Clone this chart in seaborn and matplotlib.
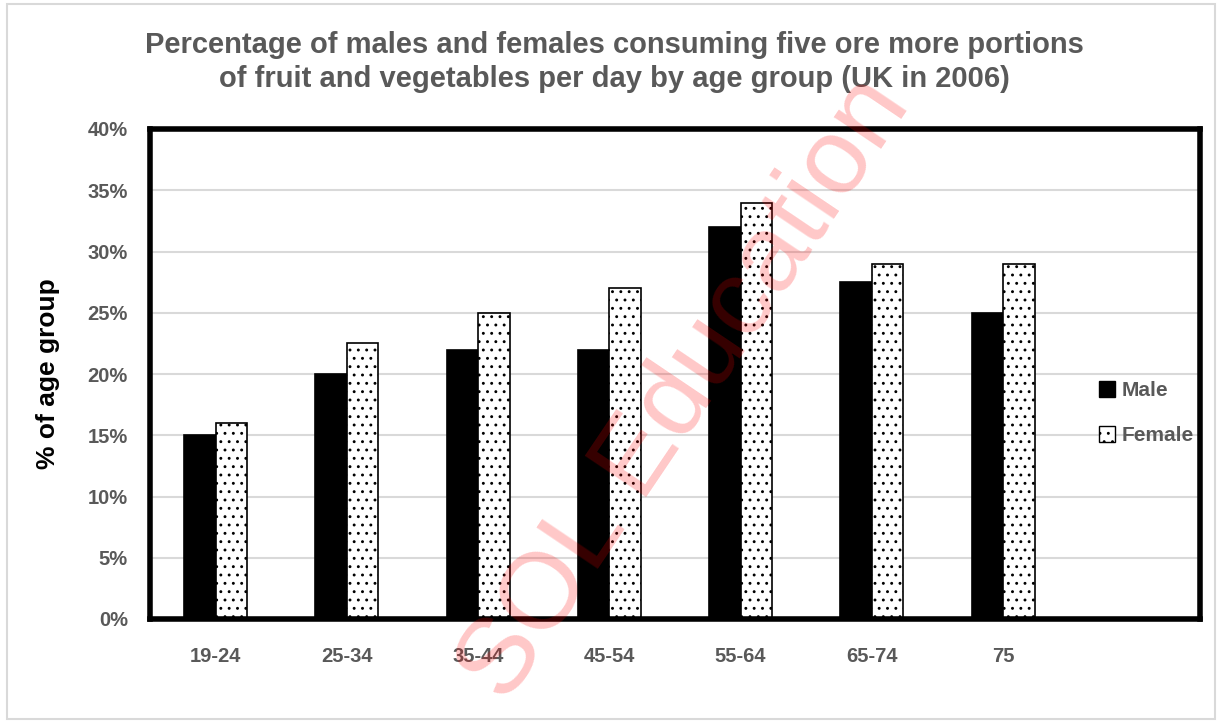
import matplotlib.pyplot as plt
import pandas as pd
import seaborn as sns
from matplotlib.patches import Patch
from matplotlib.ticker import FuncFormatter

age_groups = ["19-24", "25-34", "35-44", "45-54", "55-64", "65-74", "75", ""]
male = [15, 20, 22, 22, 32, 27.5, 25, 0]
female = [16, 22.5, 25, 27, 34, 29, 29, 0]
series = ["Male", "Female"]

GREY = "#595959"

sns.set_theme(style="white")
plt.rcParams["font.family"] = ["Liberation Sans", "DejaVu Sans"]
plt.rcParams["hatch.linewidth"] = 0.9

df = pd.DataFrame({
    "age": age_groups * 2,
    "pct": male + female,
    "sex": ["Male"] * len(age_groups) + ["Female"] * len(age_groups),
})

fig = plt.figure(figsize=(12.2, 7.22), dpi=100)
ax = fig.add_axes([150 / 1220, 1 - 619 / 722, 1050 / 1220, 490 / 722])

sns.barplot(data=df, x="age", y="pct", hue="sex", hue_order=series,
            palette={"Male": "black", "Female": "white"}, width=0.48,
            edgecolor="black", linewidth=1.2, legend=False, ax=ax)

# female bars get the dotted fill
for bar in ax.containers[1]:
    bar.set_hatch("..")

ax.set_ylim(0, 40)
ax.set_xlim(-0.5, len(age_groups) - 0.5)
ax.set_yticks(range(0, 41, 5))
ax.yaxis.set_major_formatter(FuncFormatter(lambda v, _: f"{v:.0f}%"))
ax.grid(axis="y", color="#d9d9d9", linewidth=1.5)
ax.set_axisbelow(True)

for s in ax.spines.values():
    s.set_color("black")
    s.set_linewidth(4)

ax.tick_params(axis="both", length=0, labelsize=14.5, labelcolor=GREY)
for lbl in ax.get_xticklabels() + ax.get_yticklabels():
    lbl.set_fontweight("bold")
ax.tick_params(axis="y", pad=16)
ax.tick_params(axis="x", pad=20)

ax.set_xlabel("")
ax.set_ylabel("% of age group", fontsize=19, fontweight="bold", color="black", labelpad=20)

handles = [Patch(facecolor="black", edgecolor="black", label="Male"),
           Patch(facecolor="white", edgecolor="black", hatch="..", label="Female")]
leg = ax.legend(handles=handles, loc="center left", bbox_to_anchor=(0.886, 0.42),
                frameon=False, handlelength=0.75, handleheight=0.75, handletextpad=0.35,
                labelspacing=1.25, prop={"weight": "bold", "size": 15})
for t in leg.get_texts():
    t.set_color(GREY)

fig.text(0.504, 0.914, "Percentage of males and females consuming five ore more portions\n"
         "of fruit and vegetables per day by age group (UK in 2006)",
         ha="center", va="center", fontsize=21, fontweight="bold", color=GREY,
         linespacing=1.25)

# watermark
fig.text(0.562, 0.46, "SOL Education", rotation=56, ha="center", va="center",
         fontsize=78, color="red", alpha=0.22)

# light outer frame
fig.patches.append(plt.Rectangle((0.006, 0.004), 0.99, 0.99, transform=fig.transFigure,
                                 fill=False, edgecolor="#d9d9d9", linewidth=1.5))

fig.savefig("out.png", dpi=100)
